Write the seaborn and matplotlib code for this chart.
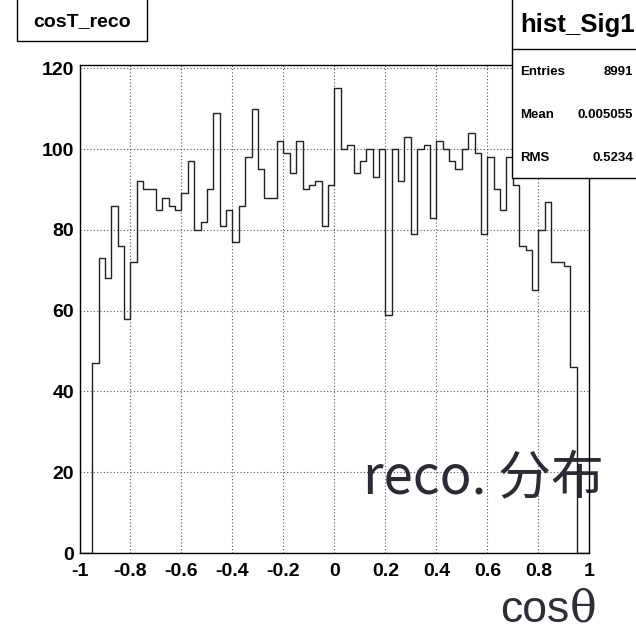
import numpy as np
import pandas as pd
import matplotlib
matplotlib.use("Agg")
import matplotlib.pyplot as plt
from matplotlib.patches import Rectangle
from matplotlib.ticker import MultipleLocator, FixedLocator, FuncFormatter
import seaborn as sns

# cos(theta) histogram: 80 bins of width 0.025 on [-1, 1]
bin_lo, bin_hi, n_bins = -1.0, 1.0, 80
counts = [0, 0,
          47, 73, 68, 86, 76, 58, 72, 92, 90, 90, 85, 88, 86, 85, 89, 97, 80, 82, 90,
          109, 81, 85, 77, 86, 98, 110, 95, 88, 88, 102, 99, 94, 102, 90, 91, 92, 81, 91,
          115, 100, 101, 94, 97, 100, 93, 100, 59, 100, 92, 103, 79, 100, 101, 83, 102, 100,
          97, 95, 100, 104, 99, 79, 98, 90, 85, 98, 91, 76, 75, 65, 80, 87, 72, 72, 71, 46,
          0, 0]

x_ticks = [-1, -0.8, -0.6, -0.4, -0.2, 0, 0.2, 0.4, 0.6, 0.8, 1]
y_ticks = [0, 20, 40, 60, 80, 100, 120]

hist_title = "cosT_reco"
stats_name = "hist_Sig1"
stats_rows = [("Entries", "8991"), ("Mean", "0.005055"), ("RMS", "0.5234")]
annotation = "reco. 分布"

edges = np.linspace(bin_lo, bin_hi, n_bins + 1)
centers = 0.5 * (edges[:-1] + edges[1:])
df = pd.DataFrame({"cos": centers, "n": np.asarray(counts, dtype=float)})

sns.set_style("white")
plt.rcParams["font.family"] = ["Liberation Sans", "DejaVu Sans"]

W, H = 636, 632
fig = plt.figure(figsize=(W / 100, H / 100), dpi=100)
fig.patch.set_facecolor("white")
ax = fig.add_axes([79.5 / W, (H - 553) / H, (589.3 - 79.5) / W, (553 - 65) / H])

sns.histplot(data=df, x="cos", weights="n", bins=list(edges), element="step", fill=False,
             color="#222222", linewidth=1.0, ax=ax, zorder=3)

ax.set_xlim(bin_lo, bin_hi)
ax.set_ylim(0, 120.8)
ax.set_xlabel("")
ax.set_ylabel("")

ax.xaxis.set_major_locator(FixedLocator(x_ticks))
ax.xaxis.set_minor_locator(MultipleLocator(0.05))
ax.yaxis.set_major_locator(FixedLocator(y_ticks))
ax.yaxis.set_minor_locator(MultipleLocator(5))
ax.xaxis.set_major_formatter(FuncFormatter(lambda v, p: f"{v:g}"))
ax.yaxis.set_major_formatter(FuncFormatter(lambda v, p: f"{v:g}"))

ax.tick_params(axis="both", which="both", direction="in", top=False, right=False,
               color="black")
ax.tick_params(axis="both", which="major", length=11, width=1.0)
ax.tick_params(axis="both", which="minor", length=5.8, width=1.0)
ax.tick_params(axis="x", which="major", pad=7)
ax.tick_params(axis="y", which="major", pad=4)
for lab in ax.get_xticklabels() + ax.get_yticklabels():
    lab.set_fontweight("bold")
    lab.set_fontsize(14)
    lab.set_color("black")

ax.grid(which="major", color="#555555", linestyle=(0, (1, 2)), linewidth=0.8, zorder=1)
ax.set_axisbelow(True)
for sp in ax.spines.values():
    sp.set_visible(True)
    sp.set_color("black")
    sp.set_linewidth(1.0)

# annotation inside the frame
ax.text((363 - 79.5) / 509.8, (553 - 493) / 488, annotation, transform=ax.transAxes,
        fontsize=38, color="#2b2b35", ha="left", va="baseline", zorder=2,
        family=["Noto Sans CJK SC", "DejaVu Sans"])

# axis title at bottom right
fig.text(569 / W, 1 / H, "cos", fontsize=32, color="#2e2e38",
         ha="right", va="bottom", family=["Liberation Sans"])
fig.text(570 / W, 1 / H, "θ", fontsize=32, color="#2e2e38",
         ha="left", va="bottom", family=["DejaVu Serif"])

# title box at top left
fig.add_artist(Rectangle((17 / W, (H - 40.7) / H), 130 / W, 0.1,
                         transform=fig.transFigure, facecolor="white",
                         edgecolor="black", linewidth=1.0, clip_on=False))
fig.text(82 / W, 1 - 22 / H, hist_title, fontsize=14, fontweight="bold",
         ha="center", va="center", color="black")

# statistics box at top right
fig.add_artist(Rectangle((512 / W, (H - 178) / H), 0.3, 0.4,
                         transform=fig.transFigure, facecolor="white",
                         edgecolor="black", linewidth=1.0, clip_on=False, zorder=5))
fig.add_artist(plt.Line2D([512 / W, 1.0], [(H - 49) / H, (H - 49) / H],
                          transform=fig.transFigure, color="black", linewidth=1.0,
                          zorder=6))
fig.text(520 / W, 1 - 25 / H, stats_name, fontsize=18.5, fontweight="bold",
         ha="left", va="center", color="black", zorder=7)
for i, (name, val) in enumerate(stats_rows):
    yy = 1 - (72 + 43 * i) / H
    fig.text(520 / W, yy, name, fontsize=9.5, fontweight="bold",
             ha="left", va="center", color="black", zorder=7)
    fig.text(633 / W, yy, val, fontsize=9.5, fontweight="bold",
             ha="right", va="center", color="black", zorder=7)

fig.savefig("out.png", dpi=100, facecolor="white")
